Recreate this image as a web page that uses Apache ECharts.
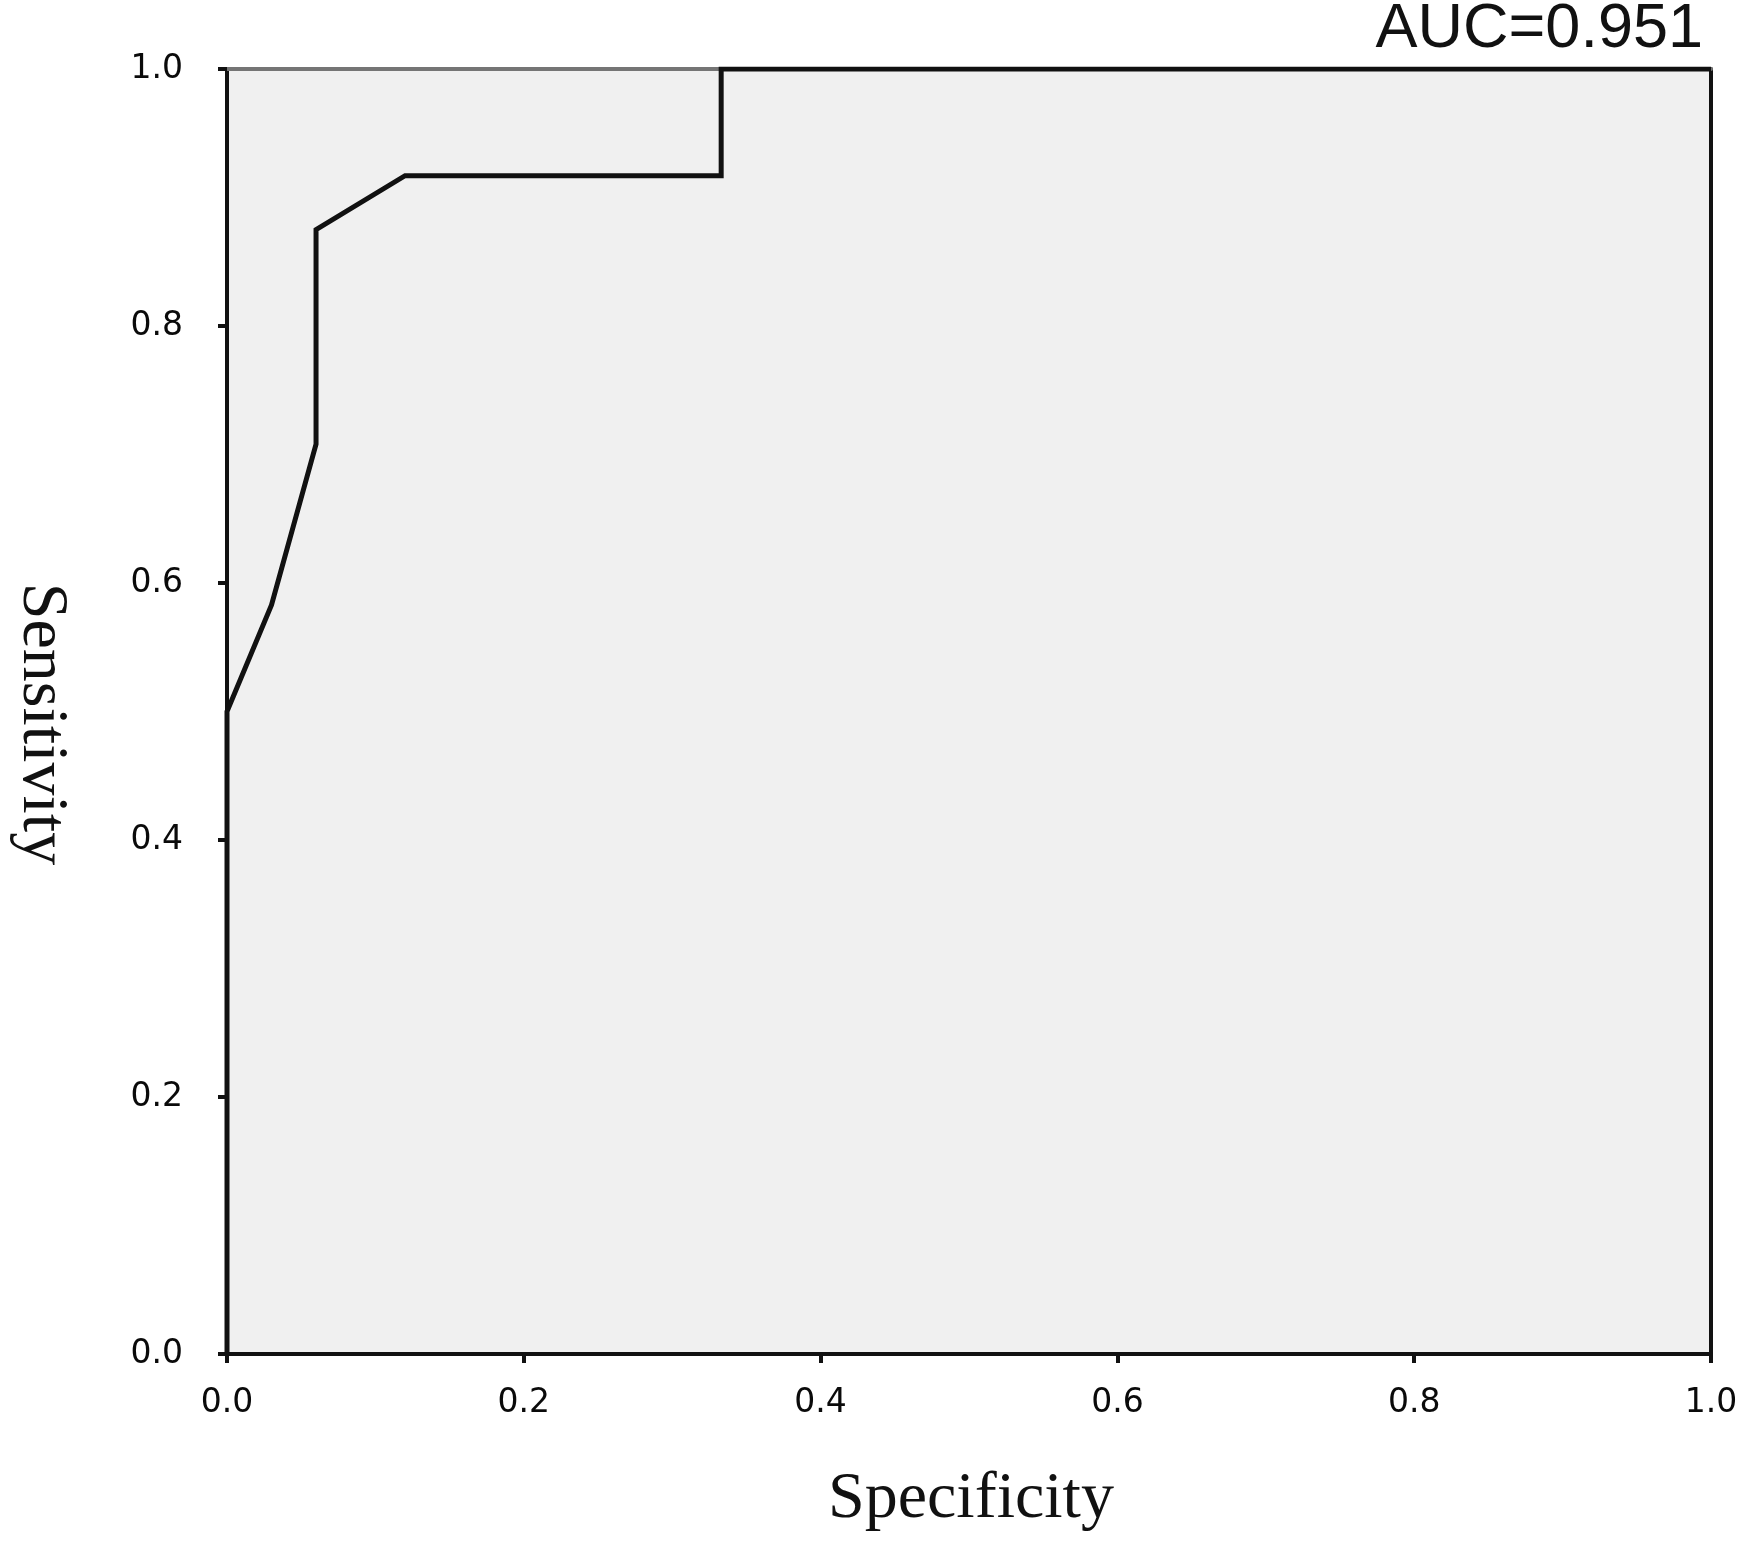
<!DOCTYPE html>
<html>
<head>
<meta charset="utf-8">
<script src="https://cdn.jsdelivr.net/npm/echarts@6/dist/echarts.min.js"></script>
<style>html,body{margin:0;padding:0;background:#fff;}#c{width:1756px;height:1544px;}</style>
</head>
<body>
<div id="c"></div>
<script>
// ROC curve points (x = value on "Specificity" axis, y = Sensitivity)
var rocX = [0, 0, 0.030, 0.060, 0.060, 0.120, 0.333, 0.333, 1.0];
var rocY = [0, 0.500, 0.583, 0.708, 0.875, 0.917, 0.917, 1.0, 1.0];
var aucText = 'AUC=0.951';
var xName = 'Specificity';
var yName = 'Sensitivity';

var pts = rocX.map(function (x, i) { return [x, rocY[i]]; });
var chart = echarts.init(document.getElementById('c'), null, {renderer: 'canvas'});
var tickLabel = {fontFamily: 'DejaVu Sans', fontSize: 33, color: '#0a0a0a'};
chart.setOption({
  animation: false,
  backgroundColor: '#ffffff',
  grid: {left: 227, right: 45, top: 69, bottom: 190, show: true, backgroundColor: '#f0f0f0', borderWidth: 0},
  xAxis: [{
    type: 'value', min: 0, max: 1, interval: 0.2, position: 'bottom',
    axisLine: {show: true, onZero: false, lineStyle: {color: '#111', width: 4}},
    axisTick: {show: true, inside: false, length: 9, lineStyle: {color: '#111', width: 4}},
    axisLabel: Object.assign({margin: 33, formatter: function (v) { return v.toFixed(1); }}, tickLabel),
    splitLine: {show: false}
  }, {
    type: 'value', min: 0, max: 1, position: 'top',
    axisLine: {show: true, onZero: false, lineStyle: {color: '#757575', width: 4}},
    axisTick: {show: false}, axisLabel: {show: false}, splitLine: {show: false}
  }],
  yAxis: [{
    type: 'value', min: 0, max: 1, interval: 0.2, position: 'left',
    axisLine: {show: true, onZero: false, lineStyle: {color: '#111', width: 4}},
    axisTick: {show: true, inside: false, length: 9, lineStyle: {color: '#111', width: 4}},
    axisLabel: Object.assign({margin: 44, formatter: function (v) { return v.toFixed(1); }}, tickLabel),
    splitLine: {show: false}
  }, {
    type: 'value', min: 0, max: 1, position: 'right',
    axisLine: {show: true, onZero: false, lineStyle: {color: '#111', width: 4}},
    axisTick: {show: false}, axisLabel: {show: false}, splitLine: {show: false}
  }],
  series: [{
    type: 'line', xAxisIndex: 0, yAxisIndex: 0, data: pts,
    showSymbol: false, symbol: 'none', smooth: false,
    lineStyle: {color: '#111', width: 5, join: 'miter'}
  }],
  graphic: [
    {type: 'text', x: 1703, y: -2, style: {text: aucText, textAlign: 'right', textVerticalAlign: 'top',
      font: '63px "Liberation Sans"', fill: '#111'}},
    {type: 'text', x: 971, y: 1500, style: {text: xName, textAlign: 'center', textVerticalAlign: 'middle',
      font: '66px "Liberation Serif"', fill: '#111'}},
    {type: 'text', x: 41, y: 724, rotation: -Math.PI / 2, style: {text: yName, textAlign: 'center', textVerticalAlign: 'middle',
      font: '66px "Liberation Serif"', fill: '#111'}}
  ]
});
</script>
</body>
</html>
